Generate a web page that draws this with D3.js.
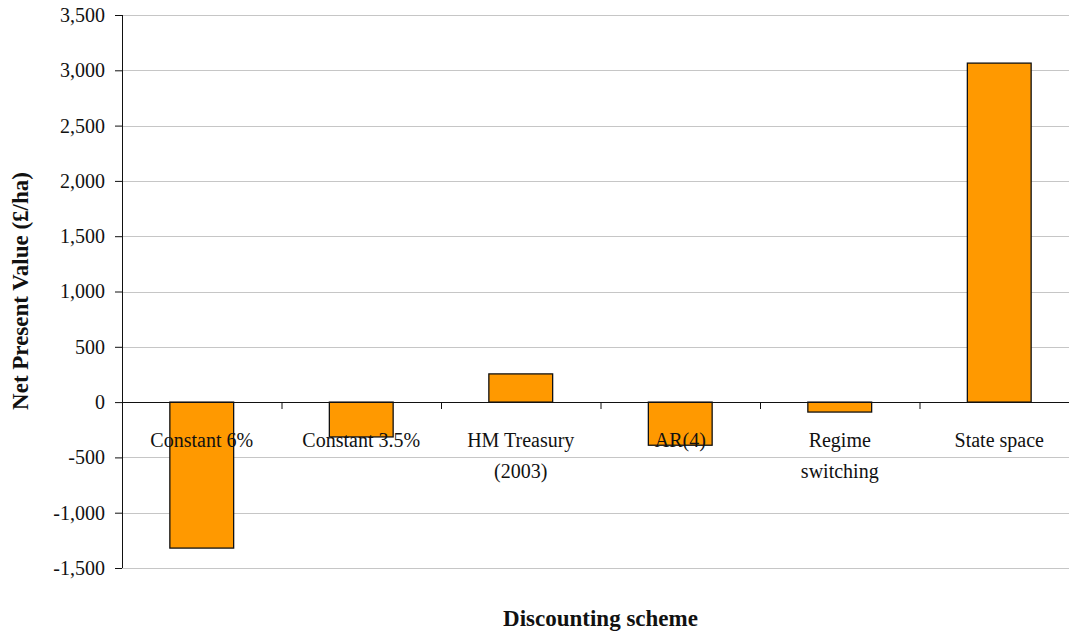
<!DOCTYPE html>
<html>
<head>
<meta charset="utf-8">
<script src="https://cdn.jsdelivr.net/npm/d3@7"></script>
<style>
  body { margin: 0; background: #fff; }
  text { font-family: "Liberation Serif", "Times New Roman", serif; fill: #111; }
</style>
</head>
<body>
<script>
// data
const schemes = ["Constant 6%", "Constant 3.5%", "HM Treasury (2003)", "AR(4)", "Regime switching", "State space"];
const labelLines = [["Constant 6%"], ["Constant 3.5%"], ["HM Treasury", "(2003)"], ["AR(4)"], ["Regime", "switching"], ["State space"]];
const npv = [-1320, -315, 255, -390, -90, 3065];
const yTicks = [-1500, -1000, -500, 0, 500, 1000, 1500, 2000, 2500, 3000, 3500];

const W = 1069, H = 634;
const m = { top: 15, right: -10, bottom: 66, left: 122 };
const w = W - m.left - m.right;
const h = H - m.top - m.bottom;

const svg = d3.select("body").append("svg")
    .attr("width", W)
    .attr("height", H);

const g = svg.append("g").attr("transform", "translate(" + m.left + "," + m.top + ")");

const x = d3.scaleBand().domain(schemes).range([0, w]).paddingInner(0).paddingOuter(0);
const y = d3.scaleLinear().domain([-1500, 3500]).range([h, 0]);

// hyphen minus like the original, thousands comma
const fmt = d3.formatLocale({ decimal: ".", thousands: ",", grouping: [3], currency: ["£", ""], minus: "-" }).format(",");

// gridlines
g.append("g")
    .selectAll("line")
    .data(yTicks.filter(d => d !== 0))
    .enter()
    .append("line")
    .attr("x1", 0).attr("x2", w)
    .attr("y1", d => Math.round(y(d)) + 0.5).attr("y2", d => Math.round(y(d)) + 0.5)
    .attr("stroke", "#c6c6c6")
    .attr("stroke-width", 1);

// bars
const bw = x.bandwidth() * 0.4;
g.selectAll("rect.bar")
    .data(npv)
    .enter()
    .append("rect")
    .attr("class", "bar")
    .attr("x", (d, i) => x(schemes[i]) + (x.bandwidth() - bw) / 2)
    .attr("y", d => y(Math.max(0, d)))
    .attr("width", bw)
    .attr("height", d => Math.abs(y(d) - y(0)))
    .attr("fill", "#ff9900")
    .attr("stroke", "#111")
    .attr("stroke-width", 1.3);

// y axis
const yAxis = d3.axisLeft(y).tickValues(yTicks).tickSize(7).tickPadding(10)
    .tickFormat(fmt);
const ya = g.append("g").call(yAxis);
ya.select(".domain").attr("stroke", "#111").attr("d", "M0.5," + y(-1500) + "V" + y(3500));
ya.selectAll(".tick line").attr("stroke", "#111");
ya.selectAll(".tick text")
    .style("font-family", "'Liberation Serif', serif")
    .style("font-size", "20px")
    .attr("fill", "#111");

// x axis on zero line, ticks at band boundaries
const za = g.append("g").attr("transform", "translate(0," + Math.round(y(0)) + ")");
za.append("line").attr("x1", 0).attr("x2", w).attr("y1", 0.5).attr("y2", 0.5)
    .attr("stroke", "#111").attr("stroke-width", 1.2);
za.selectAll("line.tk")
    .data(schemes.slice(1))
    .enter()
    .append("line")
    .attr("class", "tk")
    .attr("x1", d => x(d) + 0.5).attr("x2", d => x(d) + 0.5)
    .attr("y1", 0).attr("y2", 7)
    .attr("stroke", "#111");

// category labels
const lab = g.append("g");
labelLines.forEach((lines, i) => {
    const t = lab.append("text")
        .attr("x", x(schemes[i]) + x.bandwidth() / 2)
        .attr("y", y(0) + 45)
        .attr("text-anchor", "middle")
        .style("font-size", "20px");
    lines.forEach((s, j) => {
        t.append("tspan")
            .attr("x", x(schemes[i]) + x.bandwidth() / 2)
            .attr("dy", j === 0 ? 0 : 31)
            .text(s);
    });
});

// axis titles
svg.append("text")
    .attr("x", m.left + w / 2)
    .attr("y", 626)
    .attr("text-anchor", "middle")
    .style("font-size", "23px")
    .style("font-weight", "bold")
    .text("Discounting scheme");

svg.append("text")
    .attr("transform", "translate(28," + 291 + ") rotate(-90)")
    .attr("text-anchor", "middle")
    .style("font-size", "23px")
    .style("font-weight", "bold")
    .text("Net Present Value (£/ha)");
</script>
</body>
</html>
